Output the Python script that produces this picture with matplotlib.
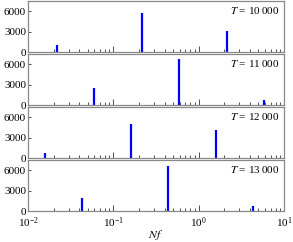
import numpy as np
import matplotlib.pyplot as plt

temps = ["10\u2009000", "11\u2009000", "12\u2009000", "13\u2009000"]
freqs = [
    [0.0217, 0.219, 2.17],
    [0.0594, 0.589, 5.89],
    [0.0159, 0.160, 1.60],
    [0.0434, 0.434, 4.36],
]
counts = [
    [1050, 5700, 3150],
    [2550, 6800, 750],
    [700, 4950, 4150],
    [1900, 6600, 800],
]
yticks = [0, 3000, 6000]

plt.rcParams["font.family"] = ["Liberation Serif", "DejaVu Serif"]
plt.rcParams["mathtext.fontset"] = "stix"

fig, axes = plt.subplots(4, 1, figsize=(2.93, 2.42), dpi=100, sharex=True)
fig.subplots_adjust(left=0.096, right=0.969, top=0.995, bottom=0.128, hspace=0.04)

for i, ax in enumerate(axes):
    ax.vlines(freqs[i], 0, counts[i], color="#0000ff", linewidth=1.6)
    ax.set_xscale("log")
    ax.set_xlim(1e-2, 1e1)
    ax.set_ylim(0, 7500)
    ax.set_yticks(yticks)
    ax.set_yticklabels([str(v) for v in yticks])
    for s in ax.spines.values():
        s.set_color("#888888")
        s.set_linewidth(0.9)
    ax.tick_params(axis="both", which="both", direction="in", labelsize=8,
                   pad=1.5, color="#333333", width=0.6)
    ax.tick_params(axis="x", which="major", length=4, top=False, pad=3.5)
    ax.tick_params(axis="x", which="minor", length=2, top=False)
    ax.tick_params(axis="y", length=2, right=False)
    ax.text(0.985, 0.93, "$T$ = " + temps[i], transform=ax.transAxes,
            ha="right", va="top", fontsize=8)

axes[-1].set_xlabel("$Nf$", fontsize=8.5, labelpad=-2)
fig.savefig("out.png", dpi=100)
